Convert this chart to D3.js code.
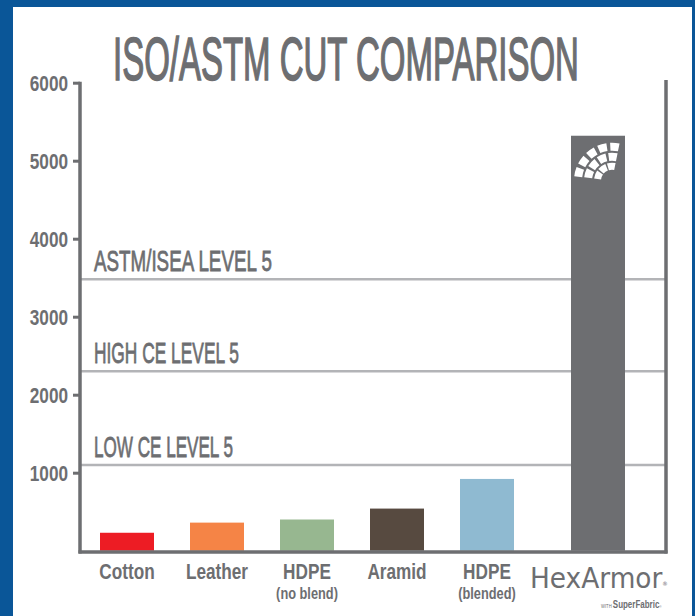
<!DOCTYPE html>
<html>
<head>
<meta charset="utf-8">
<script src="https://cdn.jsdelivr.net/npm/d3@7"></script>
<style>
  html, body { margin: 0; padding: 0; background: #0a5698; }
  svg { display: block; }
</style>
</head>
<body>
<svg id="chart" width="695" height="616"></svg>
<script>
// ---- data ----
const categories = ["Cotton", "Leather", "HDPE (no blend)", "Aramid", "HDPE (blended)", "HexArmor"];
const mainLabels = ["Cotton", "Leather", "HDPE", "Aramid", "HDPE", ""];
const subLabels = ["", "", "(no blend)", "", "(blended)", ""];
const values = [230, 360, 400, 540, 920, 5320];
const barColors = ["#ed1c24", "#f58446", "#97b790", "#574a40", "#8fbad1", "#6d6e71"];
const refLevels = [1100, 2300, 3480];
const refLabels = ["LOW CE LEVEL 5", "HIGH CE LEVEL 5", "ASTM/ISEA LEVEL 5"];
const yTicks = [1000, 2000, 3000, 4000, 5000, 6000];
const title = "ISO/ASTM CUT COMPARISON";

// ---- setup ----
const svg = d3.select("#chart");
const gray = "#6d6e71";
const sans = "'Liberation Sans', Arial, sans-serif";
const squeeze = 0.8; // horizontal condensing for bold labels

// fit a text horizontally to a target width via scale transform
function fitWidth(sel, x0, y0, target) {
  sel.each(function () {
    const len = this.getComputedTextLength();
    d3.select(this).attr("transform", `translate(${x0},${y0}) scale(${target / len},1)`);
  });
}

// white panel inside blue frame
svg.append("rect").attr("x", 13).attr("y", 7).attr("width", 679).attr("height", 609).attr("fill", "#ffffff");

const y = d3.scaleLinear().domain([0, 6000]).range([550.7, 82.7]);
const x = d3.scaleBand().domain(categories).range([82, 622]).paddingInner(0.4).paddingOuter(0.2);
const logoGap = 21; // extra space before the HexArmor bar
const bx = d => x(d) + (d === "HexArmor" ? logoGap : 0);

const axisLeft = 80, axisRight = 666, axisBottom = 552;

// title
const titleText = svg.append("text")
  .attr("font-family", sans).attr("font-size", 62)
  .attr("fill", gray).attr("stroke", gray).attr("stroke-width", 1.6)
  .text(title);
fitWidth(titleText, 113, 80, 466);

// reference lines
const refG = svg.append("g");
refG.selectAll("line").data(refLevels).join("line")
  .attr("x1", axisLeft).attr("x2", axisRight)
  .attr("y1", d => y(d)).attr("y2", d => y(d))
  .attr("stroke", "#b3b4b7").attr("stroke-width", 2.5);
const refWidths = [139, 145, 178];
refG.selectAll("text").data(refLabels).join("text")
  .attr("font-family", sans).attr("font-size", 30)
  .attr("fill", gray).attr("stroke", gray).attr("stroke-width", 0.8)
  .text(d => d)
  .each(function (d, i) { fitWidth(d3.select(this), 94, y(refLevels[i]) - 8, refWidths[i]); });

// bars
svg.append("g").selectAll("rect").data(categories).join("rect")
  .attr("x", d => bx(d))
  .attr("width", x.bandwidth())
  .attr("y", (d, i) => y(values[i]))
  .attr("height", (d, i) => y(0) - y(values[i]))
  .attr("fill", (d, i) => barColors[i]);

// tile logo on top of HexArmor bar
const hx = bx("HexArmor"), hy = y(values[5]);
const logoG = svg.append("g").attr("transform", `translate(${hx + 41},${hy + 45})`);
const rings = [[11, 18], [20, 28], [30, 38]];
const segs = [3, 4, 5];
const arcGen = d3.arc();
rings.forEach((r, ri) => {
  const a0 = -1.5, a1 = 0.25;
  const n = segs[ri];
  const step = (a1 - a0) / n;
  for (let k = 0; k < n; k++) {
    logoG.append("path")
      .attr("d", arcGen({ innerRadius: r[0], outerRadius: r[1], startAngle: a0 + k * step + 0.05, endAngle: a0 + (k + 1) * step - 0.05 }))
      .attr("fill", "#ffffff");
  }
});

// axes frame
const frame = svg.append("g").attr("stroke", gray).attr("fill", "none");
frame.append("line").attr("x1", axisLeft).attr("x2", axisLeft).attr("y1", y(6000) - 1).attr("y2", axisBottom + 1.5).attr("stroke-width", 3.5);
frame.append("line").attr("x1", axisRight).attr("x2", axisRight).attr("y1", 80).attr("y2", axisBottom + 1.5).attr("stroke-width", 3.5);
frame.append("line").attr("x1", axisLeft - 1.5).attr("x2", axisRight + 1.5).attr("y1", axisBottom).attr("y2", axisBottom).attr("stroke-width", 3.5);

// y axis ticks via d3 axis
const yAxis = d3.axisLeft(y).tickValues(yTicks).tickSize(7).tickPadding(5).tickFormat(d3.format("d"));
const yg = svg.append("g").attr("transform", `translate(${axisLeft},0)`).call(yAxis);
yg.select(".domain").remove();
yg.selectAll(".tick line").attr("stroke", gray).attr("stroke-width", 3);
yg.selectAll(".tick text")
  .attr("font-family", sans).attr("font-size", 21.5).attr("font-weight", "bold")
  .attr("fill", gray).attr("dy", "0.36em")
  .attr("x", -12 / squeeze)
  .attr("transform", `scale(${squeeze},1)`);

// x labels (condensed by horizontal scaling)
const xg = svg.append("g");
xg.selectAll("text.main").data(categories).join("text").attr("class", "main")
  .attr("transform", d => `translate(${bx(d) + x.bandwidth() / 2},579) scale(${squeeze},1)`)
  .attr("text-anchor", "middle")
  .attr("font-family", sans).attr("font-size", 21.5).attr("font-weight", "bold")
  .attr("fill", gray)
  .text((d, i) => mainLabels[i]);
xg.selectAll("text.sub").data(categories).join("text").attr("class", "sub")
  .attr("transform", d => `translate(${bx(d) + x.bandwidth() / 2},598.5) scale(${squeeze},1)`)
  .attr("text-anchor", "middle")
  .attr("font-family", sans).attr("font-size", 16).attr("font-weight", "bold")
  .attr("fill", gray)
  .text((d, i) => subLabels[i]);

// HexArmor brand label
const brand = xg.append("text")
  .attr("transform", "translate(530,588) scale(0.91,1)")
  .attr("font-family", "'DejaVu Sans', sans-serif").attr("font-size", 29)
  .attr("fill", gray);
brand.append("tspan").text("HexArmor");
brand.append("tspan").attr("font-size", 6).attr("dy", -2).text("®");

const sub = xg.append("text")
  .attr("transform", "translate(601,608) scale(0.76,1)")
  .attr("font-family", sans).attr("fill", gray);
sub.append("tspan").attr("font-size", 5.5).text("WITH ");
sub.append("tspan").attr("font-size", 10.5).attr("font-weight", "bold").text("SuperFabric");
sub.append("tspan").attr("font-size", 4).text("®");
</script>
</body>
</html>
